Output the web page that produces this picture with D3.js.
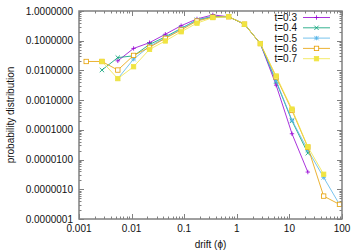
<!DOCTYPE html>
<html><head><meta charset="utf-8">
<script src="https://cdn.jsdelivr.net/npm/d3@7"></script>
<style>body{margin:0;background:#fff}svg{display:block;font-family:"Liberation Sans",Arial,sans-serif}</style>
</head><body><svg id="c" width="360" height="252"></svg>
<script>
const xs = [0.00137,0.00273,0.00547,0.0109,0.0219,0.0438,0.0875,0.175,0.35,0.7,1.4,2.8,5.6,11.2,22.4,44.8,89.6];
const labels = ["t=0.3","t=0.4","t=0.5","t=0.6","t=0.7"];
const colors = ["#9400d3","#009e73","#56b4e9","#e69f00","#f0e442"];
const starts = [2,1,2,0,1];
const s03 = [0.021,0.055,0.086,0.165,0.32,0.54,0.74,0.64,0.36,0.08,0.0032,7.4e-5,3.8e-6];
const s04 = [0.0103,0.027,0.031,0.075,0.135,0.26,0.50,0.66,0.64,0.36,0.08,0.0042,0.0002,1.65e-5];
const s05 = [0.0053,0.024,0.065,0.125,0.25,0.5,0.64,0.64,0.36,0.08,0.0045,0.00021,2.1e-5,2.5e-6,3.1e-7];
const s06 = [0.02,0.02,0.0103,0.032,0.06,0.12,0.23,0.46,0.62,0.64,0.36,0.08,0.006,0.00045,2.6e-5,5.9e-7,3.1e-7];
const s07 = [0.02,0.0053,0.0133,0.051,0.098,0.2,0.39,0.6,0.65,0.36,0.08,0.0065,0.0005,2.7e-5,3.2e-6];
const series = [s03,s04,s05,s06,s07];
const xTicks = [0.001,0.01,0.1,1,10,100];
const yTicks = [1e-7,1e-6,1e-5,1e-4,1e-3,1e-2,1e-1,1];
const xTickLabels = ["0.001","0.01","0.1","1","10","100"];

const L=79,R=342,T=11,B=219;
const svg=d3.select("#c");
const x=d3.scaleLog().domain([0.001,100]).range([L,R]);
const y=d3.scaleLog().domain([1e-7,1]).range([B,T]);
const gray="#808080";

function minors(dom){const out=[];for(let e=Math.log10(dom[0]);e<Math.log10(dom[1]);e++){for(let k=2;k<=9;k++)out.push(k*Math.pow(10,e));}return out;}
const g=svg.append("g").attr("stroke",gray).attr("stroke-width",1);
minors([0.001,100]).forEach(v=>{const px=Math.round(x(v))+0.5;
  g.append("line").attr("x1",px).attr("x2",px).attr("y1",B).attr("y2",B-2.5);
  g.append("line").attr("x1",px).attr("x2",px).attr("y1",T).attr("y2",T+2.5);});
minors([1e-7,1]).forEach(v=>{const py=Math.round(y(v))+0.5;
  g.append("line").attr("y1",py).attr("y2",py).attr("x1",L).attr("x2",L+2.5);
  g.append("line").attr("y1",py).attr("y2",py).attr("x1",R).attr("x2",R-2.5);});
xTicks.forEach(v=>{const px=Math.round(x(v))+0.5;
  g.append("line").attr("x1",px).attr("x2",px).attr("y1",B).attr("y2",B-5);
  g.append("line").attr("x1",px).attr("x2",px).attr("y1",T).attr("y2",T+5);});
yTicks.forEach(v=>{const py=Math.round(y(v))+0.5;
  g.append("line").attr("y1",py).attr("y2",py).attr("x1",L).attr("x2",L+5);
  g.append("line").attr("y1",py).attr("y2",py).attr("x1",R).attr("x2",R-5);});

svg.append("g").selectAll("text").data(yTicks).join("text")
  .attr("x",73).attr("y",d=>y(d)+3.5).attr("text-anchor","end").attr("font-size",10).attr("fill","#111")
  .text(d=>d.toFixed(7));
svg.append("g").selectAll("text").data(xTicks).join("text")
  .attr("x",d=>x(d)).attr("y",232).attr("text-anchor","middle").attr("font-size",10).attr("fill","#111")
  .text((d,i)=>xTickLabels[i]);
svg.append("text").attr("x",(L+R)/2).attr("y",248).attr("text-anchor","middle").attr("font-size",10).attr("fill","#111").text("drift (ϕ)");
svg.append("text").attr("transform",`translate(14,${(T+B)/2}) rotate(-90)`).attr("text-anchor","middle").attr("font-size",10).attr("fill","#111").text("probability distribution");

function marker(sel,i,cx,cy,c){
  const s=2.2;
  if(i===0){sel.append("path").attr("d",`M${cx-s},${cy}H${cx+s}M${cx},${cy-s}V${cy+s}`).attr("stroke",c).attr("fill","none");}
  else if(i===1){sel.append("path").attr("d",`M${cx-s},${cy-s}L${cx+s},${cy+s}M${cx-s},${cy+s}L${cx+s},${cy-s}`).attr("stroke",c).attr("fill","none");}
  else if(i===2){sel.append("path").attr("d",`M${cx-s},${cy}H${cx+s}M${cx},${cy-s}V${cy+s}M${cx-s},${cy-s}L${cx+s},${cy+s}M${cx-s},${cy+s}L${cx+s},${cy-s}`).attr("stroke",c).attr("fill","none");}
  else if(i===3){sel.append("rect").attr("x",cx-s).attr("y",cy-s).attr("width",2*s).attr("height",2*s).attr("stroke",c).attr("fill","#fff");}
  else {sel.append("rect").attr("x",cx-s).attr("y",cy-s).attr("width",2*s).attr("height",2*s).attr("stroke",c).attr("fill",c);}
}
const line=d3.line().x(d=>x(d[0])).y(d=>y(d[1]));
series.forEach((vals,i)=>{
  const pts=vals.map((v,j)=>[xs[starts[i]+j],v]);
  const gg=svg.append("g").attr("stroke-width",0.8);
  gg.append("path").datum(pts).attr("d",line).attr("fill","none").attr("stroke",colors[i]);
  pts.forEach(p=>marker(gg,i,x(p[0]),y(p[1]),colors[i]));
});

labels.forEach((lab,i)=>{
  const ly=17.5+i*10.3;
  svg.append("text").attr("x",297).attr("y",ly+3.5).attr("text-anchor","end").attr("font-size",10).attr("fill","#111").text(lab);
  const lg=svg.append("g").attr("stroke-width",0.8);
  lg.append("line").attr("x1",303).attr("x2",330).attr("y1",ly).attr("y2",ly).attr("stroke",colors[i]);
  marker(lg,i,316.5,ly,colors[i]);
});

svg.append("rect").attr("x",L).attr("y",T).attr("width",R-L).attr("height",B-T).attr("fill","none").attr("stroke",gray).attr("stroke-width",1.5);
</script></body></html>
